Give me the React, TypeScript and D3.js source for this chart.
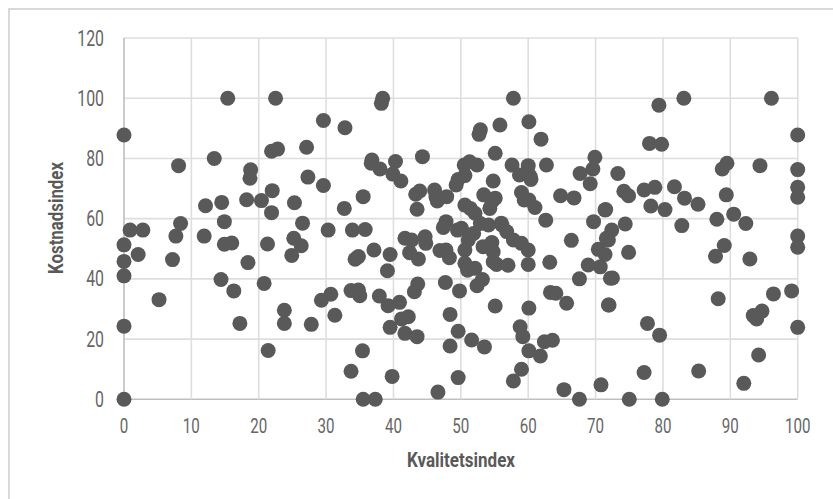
import React from "react";
import * as d3 from "d3";

const W = 833, H = 499;
const xTicks = [0,10,20,30,40,50,60,70,80,90,100];
const yTicks = [0,20,40,60,80,100,120];
const xTitle = "Kvalitetsindex";
const yTitle = "Kostnadsindex";

const kvalitet = [
0,15.4,22.5,29.6,32.8,8.1,13.4,18.8,18.7,21.9,22.8,27.1,27.3,29.6,22,18.2,20.4,25.3,12.1,14.5,21.9,32.7,35.5,8.4,14.9,26.5,
38.4,38.2,36.8,36.7,38,40.3,39.9,41.1,44.3,43.3,43.9,43.5,46.1,46.3,46.5,47.9,47.8,50.5,51.3,52.4,50.6,49.6,49.3,52.9,52.7,55.8,55.1,57.8,60.1,61.9,57.6,60,62.7,58.7,60,60.3,60.4,54.8,53.4,55.1,54.6,54.3,59,59.4,60.1,61,64.8,66.8,67.7,69.6,69.9,69.2,71.4,69.7,62.6,50.6,51.4,52.1,56,
79.4,83.1,96.1,100,78,79.8,89.5,88.8,94.4,100,100,100,73.3,74.2,74.9,77.2,78.8,81.7,83.2,85.2,89.4,78.2,80.3,71.5,88,90.5,92.3,74.4,82.8,
0.9,2.8,7.7,0,2.1,0,0,7.2,5.2,0,0,11.9,14.9,16,14.4,16.3,18.4,17.2,21.3,20.8,21.4,23.8,23.8,27.8,25.2,26.3,24.9,30.3,33.9,30.7,29.3,31.3,33.7,34.8,35,35.4,33.7,35.5,34.3,34.8,
35.8,37.1,39.5,39.1,37.9,39.2,40.9,37.3,39.8,39.5,41.2,42.2,41.7,43.5,43.6,43.1,41.7,42.7,44.7,44.8,42.4,43.7,47.4,49.5,50.1,46.9,47.8,48.3,47.7,49.8,48.4,49.6,48.4,51.6,53.5,49.6,46.6,51.9,51.1,50.6,50.6,51,52.1,53.2,52.4,53.3,54.6,54.8,54.8,55.3,57,56.1,56.8,57.8,59,60,60,63.2,66.4,68.9,70.7,70.4,71.9,67.6,72.2,63.3,64.1,65.7,71.9,60.1,55.1,58.8,59.2,60.1,61.8,62.4,63.6,59,57.8,65.3,67.6,70.8,52.9,54.1,
72.4,71.6,71.4,74.9,72.5,72,75,79.9,77.2,77.7,79.5,85.3,92,94.2,89.1,87.8,92.9,88.2,99.1,96.4,94.7,93.4,93.9,100,100,100
];
const kostnad = [
87.8,100,100,92.6,90.2,77.6,80,76.2,73.4,82.4,83.1,83.7,73.8,71,69.3,66.3,66,65.3,64.3,65.4,62,63.4,67.3,58.4,59,58.5,
100,98.3,79.5,78.4,76.5,79,74.8,72.5,80.6,68.1,69.2,63.1,69.5,67.3,65.9,67.3,59,77.8,78.9,77.8,74.3,73,71.2,89.5,88,91.1,81.7,100,92.2,86.4,77.8,77.6,77.8,74.5,75,74,73,72.5,67.9,66.8,65.6,63.4,68.7,66.2,66.2,63.7,67.6,66.9,75,76.5,80.4,71.6,62.9,59,59.5,64.5,63.4,61.8,58.5,
97.7,100,100,87.8,85,84.7,78.4,76.5,77.6,76.3,70.4,67.1,75,69.1,67.6,69.5,70.4,70.6,66.8,64.8,67.9,64.2,63,63,59.8,61.5,58.4,58.2,57.7,
56.2,56.2,54.2,51.3,48.1,45.8,41,46.4,33.1,24.3,0,54.2,51.5,51.9,39.8,36,45.4,25.2,51.6,38.5,16.2,29.6,25.2,24.9,53.5,51,47.8,56.2,56.2,34.9,32.9,27.9,36.1,36.3,34.4,16.1,9.3,0,46.5,47.4,
56.4,49.6,48.1,42.7,34.3,31.1,32.2,0,7.6,23.9,26.7,27.4,21.9,20.8,38.3,35.7,53.5,52.9,54,51.8,48.7,46.6,57.1,56.2,56.8,49.4,49.6,47,38.8,36,28.2,22.6,17.7,19.7,17.4,7.2,2.4,55.1,52.9,49.6,45.2,42.9,43.5,39.8,37.7,50.7,52.1,49,45.7,44.8,44.5,57.9,55.7,52.9,51.8,49.6,44.8,45.5,52.8,44.6,44,49.8,52.9,40,40.2,35.5,35.2,31.9,31.3,30.3,31,24.1,20.8,16.1,14.4,19.1,19.6,10,6.1,3.2,0,4.8,58.4,57.9,
56.2,53.5,48.1,48.8,40.3,31.3,0,0,8.9,25.2,21.3,9.4,5.3,14.7,51.1,47.5,46.6,33.4,36,35,29.3,27.8,26.7,23.9,54.2,50.5
];

const x = d3.scaleLinear().domain([0, 100]).range([124, 797.7]);
const y = d3.scaleLinear().domain([0, 120]).range([399.3, 38]);
const FONT = "Roboto,sans-serif";

export default function App() {
  return (
    <svg width={W} height={H} style={{ position: "absolute", left: 0, top: 0, background: "#fff" }}>
      <rect x={9} y={9} width={840} height={500} fill="#fff" stroke="#d9d9d9" strokeWidth={2} />
      {yTicks.map(t => <line key={t} x1={x(0)} x2={x(100)} y1={y(t)} y2={y(t)} stroke={t === 0 ? "#bfbfbf" : "#dedede"} strokeWidth={1.6} />)}
      {xTicks.map(t => <line key={t} x1={x(t)} x2={x(t)} y1={y(0)} y2={y(120)} stroke={t === 0 ? "#bfbfbf" : "#dedede"} strokeWidth={1.6} />)}
      {kvalitet.map((v, i) => <circle key={i} cx={x(v)} cy={y(kostnad[i])} r={7.5} fill="#595959" />)}
      {yTicks.map(t => <text key={t} transform={`translate(104,${y(t) + 7.6}) scale(0.72,1)`} textAnchor="end" fontFamily={FONT} fontSize={22} fontWeight={400} fill="#666666">{t}</text>)}
      {xTicks.map(t => <text key={t} transform={`translate(${x(t)},432.8) scale(0.72,1)`} textAnchor="middle" fontFamily={FONT} fontSize={21} fontWeight={400} fill="#666666">{t}</text>)}
      <text x={407} y={466.7} textLength={108} lengthAdjust="spacingAndGlyphs" fontFamily={FONT} fontSize={21} fontWeight={700} fill="#595959">{xTitle}</text>
      <text transform="translate(63,274) rotate(-90)" textLength={112} lengthAdjust="spacingAndGlyphs" fontFamily={FONT} fontSize={21} fontWeight={700} fill="#595959">{yTitle}</text>
    </svg>
  );
}
